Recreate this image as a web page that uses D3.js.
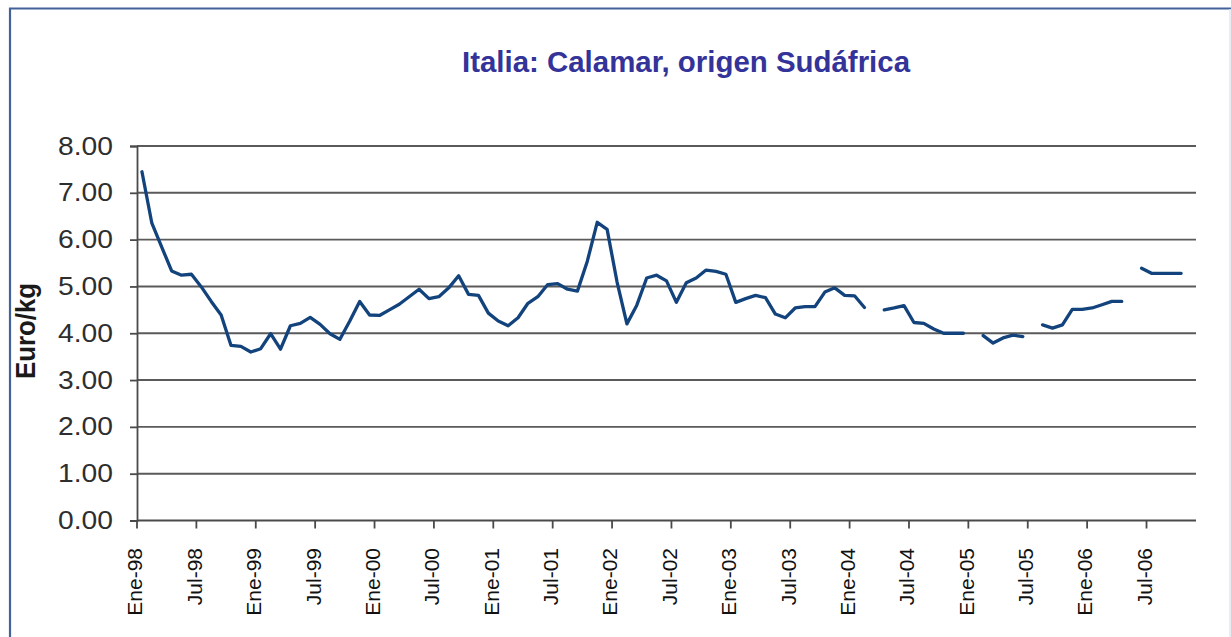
<!DOCTYPE html>
<html>
<head>
<meta charset="utf-8">
<script src="https://cdn.jsdelivr.net/npm/d3@7"></script>
<style>
  html, body { margin: 0; padding: 0; background: #ffffff; }
  svg { display: block; }
</style>
</head>
<body>
<svg id="chart" width="1231" height="637"></svg>
<script>
// ---- data ----
const title = "Italia: Calamar, origen Sudáfrica";
const yAxisTitle = "Euro/kg";
// monthly categories Jan-1998 .. Nov-2006
const months = d3.timeMonth.range(new Date(1998, 0, 1), new Date(2006, 11, 1));
const prices = [
  7.45, 6.35, 5.84, 5.33, 5.24, 5.26, 4.99, 4.68, 4.39, 3.74, 3.72, 3.60,
  3.67, 3.99, 3.66, 4.16, 4.21, 4.34, 4.19, 3.99, 3.87, 4.26, 4.68, 4.39,
  4.38, 4.50, 4.62, 4.78, 4.94, 4.74, 4.78, 4.97, 5.23, 4.83, 4.81, 4.43,
  4.26, 4.16, 4.33, 4.64, 4.78, 5.04, 5.06, 4.94, 4.90, 5.54, 6.37, 6.22,
  5.10, 4.20, 4.60, 5.18, 5.24, 5.12, 4.66, 5.08, 5.18, 5.35, 5.32, 5.26,
  4.66, 4.74, 4.81, 4.76, 4.41, 4.33, 4.54, 4.57, 4.57, 4.88, 4.97, 4.81,
  4.80, 4.55, null, 4.50, 4.54, 4.59, 4.23, 4.21, 4.09, 4.00, 4.00, 4.00,
  null, 3.95, 3.79, 3.90, 3.96, 3.93, null, 4.18, 4.11, 4.18, 4.51, 4.51,
  4.54, 4.61, 4.68, 4.68, null, 5.39, 5.28, 5.28, 5.28, 5.28, null
];
const yTicks = [0, 1, 2, 3, 4, 5, 6, 7, 8];
const xTickLabels = ["Ene-98","Jul-98","Ene-99","Jul-99","Ene-00","Jul-00","Ene-01","Jul-01",
  "Ene-02","Jul-02","Ene-03","Jul-03","Ene-04","Jul-04","Ene-05","Jul-05","Ene-06","Jul-06"];

// ---- layout ----
const svg = d3.select("#chart");
const L = 137, R = 1196, T = 146, B = 520.5;

// frame
svg.append("path")
  .attr("d", "M10,637 L10,8.5 L1231,8.5")
  .attr("fill", "none").attr("stroke", "#43629a").attr("stroke-width", 2.2);
svg.append("line").attr("x1", 1230).attr("x2", 1230).attr("y1", 9).attr("y2", 637)
  .attr("stroke", "#e4e6f0").attr("stroke-width", 1.5);

const x = d3.scaleBand().domain(months.map((d, i) => i)).range([L, R]).padding(0);
const y = d3.scaleLinear().domain([0, 8]).range([B, T]);

// gridlines
svg.append("g").selectAll("line").data(yTicks.filter(d => d > 0)).join("line")
  .attr("x1", L).attr("x2", R)
  .attr("y1", d => y(d)).attr("y2", d => y(d))
  .attr("stroke", "#5a5a5a").attr("stroke-width", 1.9);

// y axis
const yAxis = d3.axisLeft(y).tickValues(yTicks).tickSize(7).tickPadding(17)
  .tickFormat(d3.format(".2f"));
const gy = svg.append("g").attr("transform", `translate(${L},0)`).call(yAxis);
gy.select(".domain").attr("stroke", "#4a4a4a").attr("stroke-width", 1.8);
gy.selectAll(".tick line").attr("stroke", "#4a4a4a").attr("stroke-width", 1.8);
gy.selectAll(".tick text")
  .attr("font-family", "Liberation Sans, Arial, sans-serif")
  .attr("font-size", 25).attr("fill", "#2e2e2e")
  .attr("textLength", 55).attr("lengthAdjust", "spacingAndGlyphs");

// x axis (ticks at half-year category boundaries)
const tickIdx = months.map((d, i) => i).filter(i => months[i].getMonth() % 6 === 0);
const gx = svg.append("g");
gx.append("line").attr("x1", L).attr("x2", R).attr("y1", B).attr("y2", B)
  .attr("stroke", "#4a4a4a").attr("stroke-width", 1.8);
gx.selectAll("line.tk").data(tickIdx).join("line").attr("class", "tk")
  .attr("x1", i => x(i)).attr("x2", i => x(i))
  .attr("y1", B).attr("y2", B + 8)
  .attr("stroke", "#4a4a4a").attr("stroke-width", 1.8);
gx.selectAll("text").data(tickIdx).join("text")
  .attr("transform", (i) => `translate(${x(i) - 2},548) rotate(-90)`)
  .attr("text-anchor", "end").attr("dy", "0.35em")
  .attr("font-family", "Liberation Sans, Arial, sans-serif")
  .attr("font-size", 21).attr("fill", "#111")
  .text((i, k) => xTickLabels[k]);

// line
const line = d3.line()
  .defined(d => d.v != null)
  .x(d => x(d.i) + x.bandwidth() / 2)
  .y(d => y(d.v));
svg.append("path")
  .datum(prices.map((v, i) => ({ i, v })))
  .attr("d", line)
  .attr("fill", "none").attr("stroke", "#13437c").attr("stroke-width", 3.3)
  .attr("stroke-linejoin", "round").attr("stroke-linecap", "round");

// title
svg.append("text")
  .attr("x", 686).attr("y", 72).attr("text-anchor", "middle")
  .attr("font-family", "Liberation Sans, Arial, sans-serif")
  .attr("font-weight", "bold").attr("font-size", 29).attr("fill", "#333399")
  .attr("textLength", 448).attr("lengthAdjust", "spacingAndGlyphs")
  .text(title);

// y axis title
svg.append("text")
  .attr("transform", "translate(35,331) rotate(-90)")
  .attr("text-anchor", "middle")
  .attr("font-family", "Liberation Sans, Arial, sans-serif")
  .attr("font-weight", "bold").attr("font-size", 27).attr("fill", "#1a1a1a")
  .attr("textLength", 96).attr("lengthAdjust", "spacingAndGlyphs")
  .text(yAxisTitle);
</script>
</body>
</html>
